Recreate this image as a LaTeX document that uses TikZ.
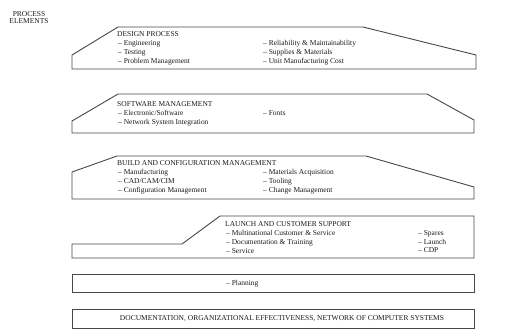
\documentclass[tikz,border=0pt]{standalone}
\usepackage{fontspec}
\setmainfont{Liberation Serif}
\begin{document}
\begin{tikzpicture}[x=1bp,y=-1bp,
  outline/.style={draw=black!72,line width=0.9bp},
  txt/.style={anchor=base west,inner sep=0pt,font=\fontsize{7.5}{8}\selectfont,text=black!90},
  ctr/.style={anchor=base,inner sep=0pt,font=\fontsize{7.5}{8}\selectfont,text=black!90,align=center}]
\useasboundingbox (0,0) rectangle (528,333);

% header
\node[ctr] (hdr1) at (29,16) {PROCESS};
\node[ctr] (hdr2) at (29,23.5) {ELEMENTS};

% design process
\draw[outline] (72,55) -- (118,27) -- (363,27) -- (476,55) -- (476,69) -- (72,69) -- cycle;
\node[txt] (d0) at (117,36) {DESIGN PROCESS};
\node[txt] (d1) at (118,45) {-- Engineering};
\node[txt] (d2) at (118,54) {-- Testing};
\node[txt] (d3) at (118,63) {-- Problem Management};
\node[txt] (d4) at (263,45) {-- Reliability \& Maintainability};
\node[txt] (d5) at (263,54) {-- Supplies \& Materials};
\node[txt] (d6) at (263,63) {-- Unit Manufacturing Cost};

% software management
\draw[outline] (72,121) -- (118,94) -- (427,94) -- (474,120) -- (474,133) -- (72,133) -- cycle;
\node[txt] (s0) at (117,106) {SOFTWARE MANAGEMENT};
\node[txt] (s1) at (118,115) {-- Electronic/Software};
\node[txt] (s2) at (118,124) {-- Network System Integration};
\node[txt] (s3) at (263,115) {-- Fonts};

% build and configuration management
\draw[outline] (72,172) -- (117,156) -- (366,156) -- (474,187) -- (474,199) -- (72,199) -- cycle;
\node[txt] (b0) at (117,165.5) {BUILD AND CONFIGURATION MANAGEMENT};
\node[txt] (b1) at (118,174) {-- Manufacturing};
\node[txt] (b2) at (118,183) {-- CAD/CAM/CIM};
\node[txt] (b3) at (118,192) {-- Configuration Management};
\node[txt] (b4) at (263,174) {-- Materials Acquisition};
\node[txt] (b5) at (263,183) {-- Tooling};
\node[txt] (b6) at (263,192) {-- Change Management};

% launch and customer support
\draw[outline] (72,244) -- (182,244) -- (220,216) -- (474,216) -- (474,258) -- (72,258) -- cycle;
\node[txt] (l0) at (225,226.5) {LAUNCH AND CUSTOMER SUPPORT};
\node[txt] (l1) at (226,235) {-- Multinational Customer \& Service};
\node[txt] (l2) at (226,244) {-- Documentation \& Training};
\node[txt] (l3) at (226,253) {-- Service};
\node[txt] (l4) at (418,235.5) {-- Spares};
\node[txt] (l5) at (418,244) {-- Launch};
\node[txt] (l6) at (418,252.5) {-- CDP};

% planning
\draw[outline] (72,274) rectangle (474,292);
\node[txt] (p1) at (226,285.5) {-- Planning};

% documentation
\draw[outline] (72,309) rectangle (474,328);
\node[ctr] (doc) at (282,320.5) {DOCUMENTATION, ORGANIZATIONAL EFFECTIVENESS, NETWORK OF COMPUTER SYSTEMS};
\end{tikzpicture}
\end{document}
